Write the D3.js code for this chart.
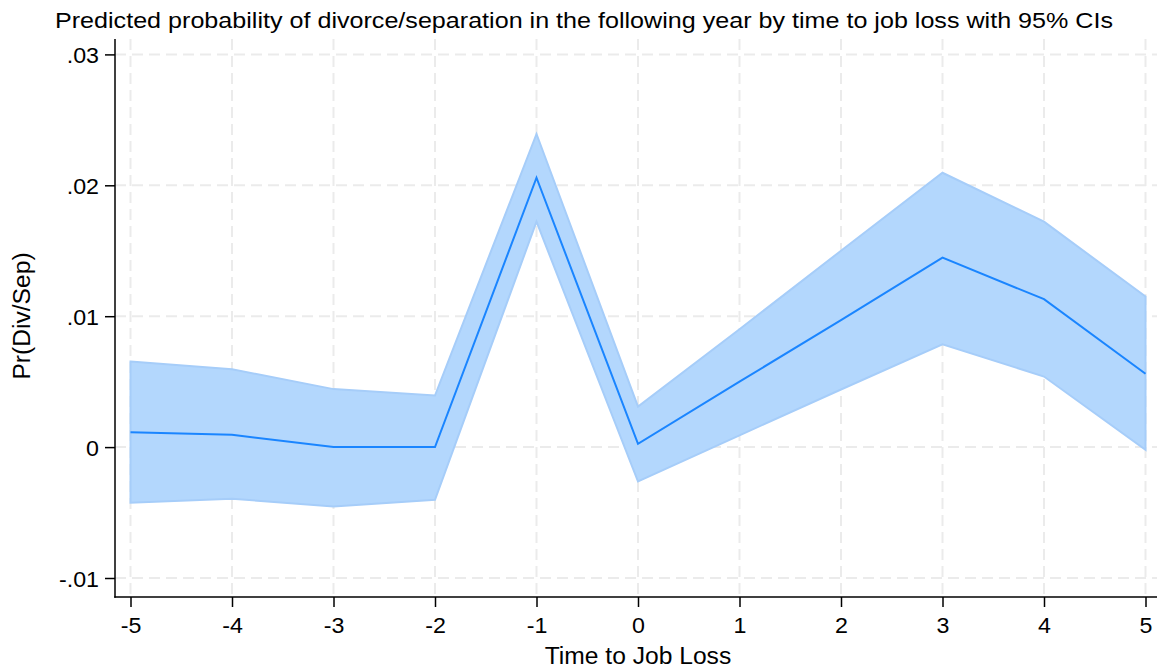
<!DOCTYPE html>
<html>
<head>
<meta charset="utf-8">
<script src="https://cdn.jsdelivr.net/npm/d3@7"></script>
<style>
  body { margin: 0; background: #fff; }
  svg { display: block; font-family: "Liberation Sans", Arial, sans-serif; }
</style>
</head>
<body>
<div id="chart"></div>
<script>
/* DATA */
const years = [-5, -4, -3, -2, -1, 0, 1, 2, 3, 4, 5];
const predicted = [0.00114, 0.00094, 0.0000, 0.0000, 0.02058, 0.00025, 0.0050, 0.0097, 0.01447, 0.0113, 0.0056];
const upperCI = [0.00653, 0.00595, 0.00443, 0.00394, 0.02392, 0.0031, 0.0090, 0.0150, 0.02096, 0.01722, 0.0115];
const lowerCI = [-0.00425, -0.00395, -0.00453, -0.00402, 0.01722, -0.00263, 0.0009, 0.0044, 0.00786, 0.00539, -0.0002];
const yTicks = [-0.01, 0, 0.01, 0.02, 0.03];
const xTicks = years;

/* CONSTANTS */
const width = 1158, height = 668;
const plot = { left: 115, right: 1157, top: 39, bottom: 597 };

const rows = years.map((x, i) => ({ x, y: predicted[i], lo: lowerCI[i], hi: upperCI[i] }));

// text in the reference is a bit wider than Liberation Sans
function stretch(sel, k) {
  sel.each(function () {
    const w = this.getComputedTextLength();
    d3.select(this).attr("textLength", w * k).attr("lengthAdjust", "spacingAndGlyphs");
  });
}

const svg = d3.select("#chart").append("svg")
  .attr("width", width)
  .attr("height", height);

const x = d3.scaleLinear().domain([-5, 5]).range([130.5, 1145.5]);
const y = d3.scaleLinear().domain([-0.01, 0.03]).range([578, 54.4]);

const fmtY = d => d === 0 ? "0" : d.toFixed(2).replace(/^(-?)0\./, "$1.");

// grid
const grid = svg.append("g")
  .attr("stroke", "#ebebeb")
  .attr("stroke-width", 2)
  .attr("stroke-dasharray", "11,6");

grid.selectAll(".gy").data(yTicks).join("line")
  .attr("x1", plot.left).attr("x2", plot.right)
  .attr("y1", d => y(d)).attr("y2", d => y(d));

grid.selectAll(".gx").data(xTicks).join("line")
  .attr("x1", d => x(d)).attr("x2", d => x(d))
  .attr("y1", plot.top).attr("y2", plot.bottom);

// CI band
const area = d3.area()
  .x(d => x(d.x))
  .y0(d => y(d.lo))
  .y1(d => y(d.hi));

svg.append("path")
  .datum(rows)
  .attr("d", area)
  .attr("fill", "#b3d7fd")
  .attr("stroke", "#a6cdf9")
  .attr("stroke-width", 2);

// predicted line
svg.append("path")
  .datum(rows)
  .attr("d", d3.line().x(d => x(d.x)).y(d => y(d.y)))
  .attr("fill", "none")
  .attr("stroke", "#1a85ff")
  .attr("stroke-width", 2);

// axes
const yAxis = svg.append("g")
  .attr("transform", `translate(${plot.left},0)`)
  .call(d3.axisLeft(y).tickValues(yTicks).tickFormat(fmtY).tickSize(10).tickPadding(6));
yAxis.select(".domain").remove();
yAxis.append("line")
  .attr("x1", 0).attr("x2", 0)
  .attr("y1", plot.top).attr("y2", plot.bottom + 0.75)
  .attr("stroke", "#000").attr("stroke-width", 1.5);
yAxis.selectAll(".tick text").attr("dy", "0.38em");

const xAxis = svg.append("g")
  .attr("transform", `translate(0,${plot.bottom})`)
  .call(d3.axisBottom(x).tickValues(xTicks).tickFormat(d => String(d)).tickSize(10).tickPadding(11));
xAxis.select(".domain").remove();
xAxis.append("line")
  .attr("x1", plot.left - 0.75).attr("x2", plot.right)
  .attr("y1", 0).attr("y2", 0)
  .attr("stroke", "#000").attr("stroke-width", 1.5);

svg.selectAll(".tick line").attr("stroke", "#000").attr("stroke-width", 1.5);
svg.selectAll(".tick text")
  .attr("fill", "#000")
  .style("font-size", "21.5px")
  .style("font-family", "'Liberation Sans', Arial, sans-serif")
  .call(stretch, 1.08);

// titles
svg.append("text")
  .attr("x", 584).attr("y", 28)
  .attr("text-anchor", "middle")
  .style("font-size", "21.5px")
  .attr("textLength", 1058)
  .attr("lengthAdjust", "spacingAndGlyphs")
  .text("Predicted probability of divorce/separation in the following year by time to job loss with 95% CIs");

svg.append("text")
  .attr("x", 638).attr("y", 664)
  .attr("text-anchor", "middle")
  .style("font-size", "23px")
  .text("Time to Job Loss")
  .call(stretch, 1.07);

svg.append("text")
  .attr("transform", `translate(30,${(plot.top + plot.bottom) / 2 - 2}) rotate(-90)`)
  .attr("text-anchor", "middle")
  .style("font-size", "23px")
  .text("Pr(Div/Sep)")
  .call(stretch, 1.07);
</script>
</body>
</html>
